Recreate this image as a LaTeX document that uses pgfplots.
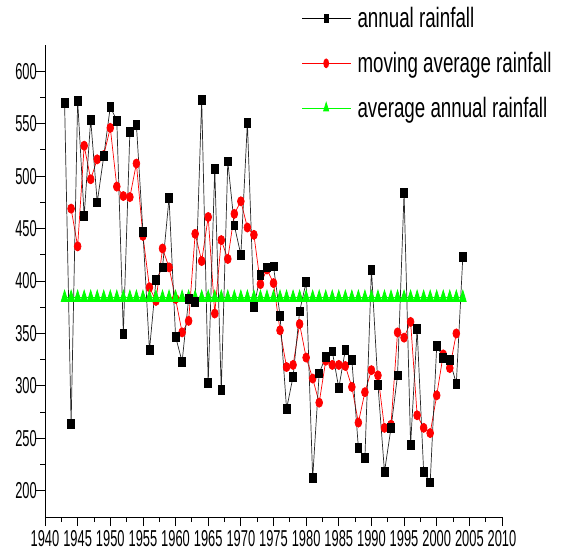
\documentclass[border=0pt]{standalone}
\usepackage{fontspec}
\usepackage{pgfplots}
\pgfplotsset{compat=1.18}
\newfontfamily\tickfont{Liberation Sans}[FakeStretch=0.56]
\newfontfamily\legfont{Liberation Sans}[FakeStretch=0.67]
\pgfplotstableread{
year val
1943 570
1944 264
1945 572
1946 462
1947 554
1948 475
1949 519
1950 566
1951 553
1952 350
1953 542
1954 549
1955 447
1956 334
1957 401
1958 413
1959 479
1960 347
1961 323
1962 383
1963 380
1964 573
1965 303
1966 507
1967 296
1968 514
1969 453
1970 425
1971 551
1972 375
1973 406
1974 413
1975 414
1976 367
1977 278
1978 309
1979 371
1980 399
1981 212
1982 312
1983 328
1984 333
1985 298
1986 334
1987 325
1988 241
1989 231
1990 411
1991 301
1992 218
1993 260
1994 310
1995 484
1996 244
1997 354
1998 218
1999 208
2000 338
2001 327
2002 325
2003 302
2004 423
}\annual
\pgfplotstableread{
year val
1944 469
1945 433
1946 529
1947 497
1948 516
1949 520
1950 546
1951 490
1952 481
1953 480
1954 512
1955 443
1956 394
1957 381
1958 431
1959 413
1960 383
1961 351
1962 362
1963 445
1964 419
1965 461
1966 369
1967 439
1968 421
1969 464
1970 476
1971 451
1972 444
1973 397
1974 411
1975 398
1976 353
1977 318
1978 320
1979 359
1980 327
1981 307
1982 284
1983 324
1984 320
1985 320
1986 319
1987 299
1988 265
1989 294
1990 315
1991 310
1992 260
1993 263
1994 351
1995 346
1996 361
1997 272
1998 260
1999 255
2000 291
2001 330
2002 317
2003 350
}\moving
\pgfplotstableread{
year val
1943 384
1944 384
1945 384
1946 384
1947 384
1948 384
1949 384
1950 384
1951 384
1952 384
1953 384
1954 384
1955 384
1956 384
1957 384
1958 384
1959 384
1960 384
1961 384
1962 384
1963 384
1964 384
1965 384
1966 384
1967 384
1968 384
1969 384
1970 384
1971 384
1972 384
1973 384
1974 384
1975 384
1976 384
1977 384
1978 384
1979 384
1980 384
1981 384
1982 384
1983 384
1984 384
1985 384
1986 384
1987 384
1988 384
1989 384
1990 384
1991 384
1992 384
1993 384
1994 384
1995 384
1996 384
1997 384
1998 384
1999 384
2000 384
2001 384
2002 384
2003 384
2004 384
}\avg
\definecolor{ogreen}{RGB}{0,255,0}
\begin{document}
\begin{tikzpicture}
\begin{axis}[
  at={(0pt,0pt)}, anchor=south west,
  scale only axis, width=457pt, height=472pt,
  xmin=1940, xmax=2010, ymin=175, ymax=625,
  axis x line=bottom, axis y line=left,
  axis line style={-, line width=0.8pt},
  xtick={1940,1945,...,2010}, ytick={200,250,...,600},
  minor x tick num=1, minor y tick num=1,
  tick align=outside,
  major tick length=9pt, minor tick length=5pt,
  tick style={line width=0.8pt, black},
  /pgf/number format/assume math mode=true,
  /pgf/number format/set thousands separator={},
  tick label style={font=\tickfont\fontsize{23}{24}\selectfont},
  xticklabel style={inner ysep=0pt, yshift=-4pt},
  yticklabel style={inner xsep=0pt, xshift=1pt},
  legend style={draw=none, fill=none, at={(0.555,1.088)}, anchor=north west,
    font=\legfont\fontsize{28}{30}\selectfont, row sep=19pt,
    nodes={inner xsep=2pt},
    /tikz/every odd column/.append style={column sep=4pt}},
  legend cell align=left,
  legend image code/.code={\draw[mark repeat=2,mark phase=2,#1] plot coordinates {(0pt,0pt)(24pt,0pt)(49pt,0pt)};},
  clip=false,
]
\addplot[red, line width=0.7pt, mark=*, mark size=3.4pt, mark options={yscale=1.35, fill=red, draw=red}, forget plot] table[x=year,y=val]{\moving};
\addplot[ogreen, line width=0.8pt, mark=triangle*, mark size=3.9pt, mark options={yscale=1.9, fill=ogreen, draw=ogreen}, forget plot] table[x=year,y=val]{\avg};
\addplot[black!85, line width=0.7pt, mark=square*, mark size=3.4pt, mark options={yscale=1.3, fill=black, draw=black}, forget plot] table[x=year,y=val]{\annual};
\addlegendimage{black, line width=0.7pt, mark=square*, mark size=2pt, mark options={yscale=2, fill=black}}
\addlegendimage{red, line width=0.7pt, mark=*, mark size=2.5pt, mark options={yscale=1.8, fill=red}}
\addlegendimage{ogreen, line width=0.7pt, mark=triangle*, mark size=3pt, mark options={yscale=1.9, fill=ogreen}}
\legend{annual rainfall, moving average rainfall, average annual rainfall}
\end{axis}
\pgfresetboundingbox
\path[use as bounding box] (-45pt,-37pt) rectangle (517pt,517pt);
\end{tikzpicture}
\end{document}
